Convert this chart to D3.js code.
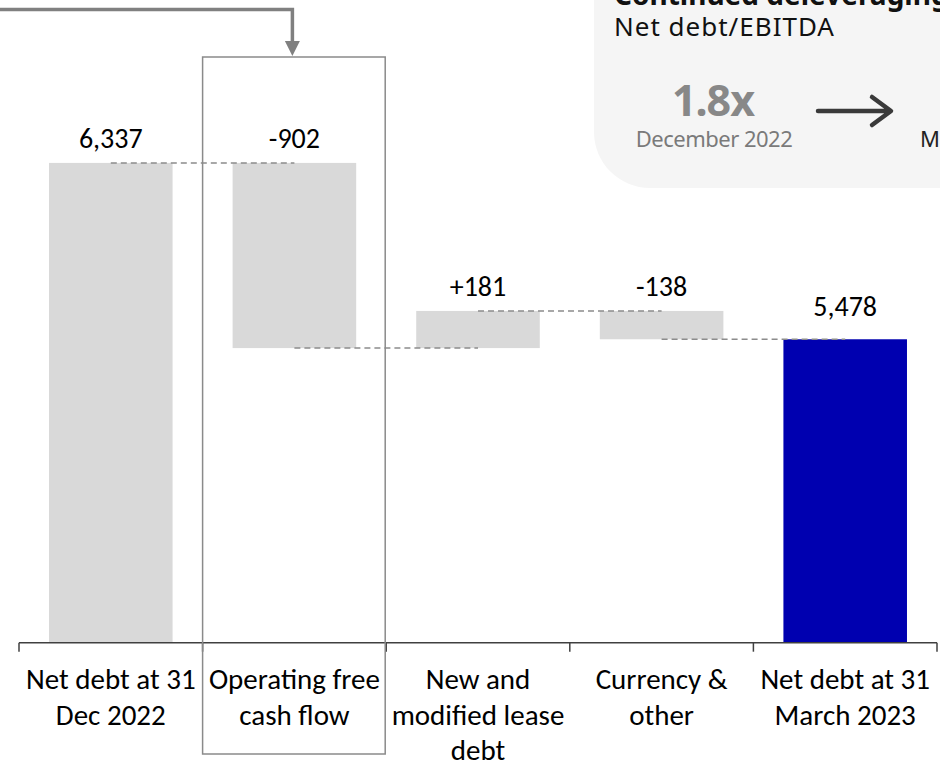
<!DOCTYPE html>
<html>
<head>
<meta charset="utf-8">
<script src="https://cdn.jsdelivr.net/npm/d3@7"></script>
<style>
  body { margin: 0; background: #fff; }
  .cat, .val { font-family: Carlito, Calibri, "Liberation Sans Narrow", sans-serif; fill: #000; }
  .panel text { font-family: "Noto Sans", sans-serif; }
</style>
</head>
<body>
<div id="chart"></div>
<script>
var svgW = 940;
var svgH = 766;

// waterfall steps, net debt in EUR m
var categories = ["Net debt at 31 Dec 2022", "Operating free cash flow", "New and modified lease debt", "Currency & other", "Net debt at 31 March 2023"];
var catLines = [["Net debt at 31", "Dec 2022"], ["Operating free", "cash flow"], ["New and", "modified lease", "debt"], ["Currency &", "other"], ["Net debt at 31", "March 2023"]];
var values = [6337, -902, 181, -138, 5478];
var kinds = ["total", "delta", "delta", "delta", "total"];
var valueLabels = ["6,337", "-902", "+181", "-138", "5,478"];
var colors = ["#d9d9d9", "#d9d9d9", "#d9d9d9", "#d9d9d9", "#0000b0"];

var axisY = 642.7;

var svg = d3.select("#chart")
    .append("svg")
    .attr("width", svgW)
    .attr("height", svgH);

// build start/end of each bar
var steps = [];
var running = 0;
for (var i = 0; i < values.length; i++) {
    var s, e;
    if (kinds[i] === "total") {
        s = 4000;
        e = values[i];
        running = values[i];
    } else {
        s = running;
        e = running + values[i];
        running = e;
    }
    steps.push({ cat: categories[i], lines: catLines[i], lo: Math.min(s, e), hi: Math.max(s, e), end: running, label: valueLabels[i], color: colors[i] });
}

var xScale = d3.scaleBand()
    .domain(categories)
    .range([19, 937])
    .paddingInner(0.327)
    .paddingOuter(0.1635);

var yScale = d3.scaleLinear()
    .domain([4000, 7000])
    .range([axisY, axisY - 3000 * 0.2053]);

var step = xScale.step();
var bw = xScale.bandwidth();
var cx = d => xScale(d) + bw / 2;

// side panel, top right
var panel = svg.append("g").attr("class", "panel");
panel.append("rect")
    .attr("x", 594).attr("y", -80)
    .attr("width", 420).attr("height", 268)
    .attr("rx", 56)
    .attr("fill", "#f5f5f5");
panel.append("text")
    .attr("x", 614).attr("y", 5)
    .attr("font-size", 28).attr("font-weight", 700)
    .attr("fill", "#111")
    .text("Continued deleveraging");
panel.append("text")
    .attr("x", 614).attr("y", 36)
    .attr("font-size", 26).attr("letter-spacing", 1)
    .attr("fill", "#111")
    .text("Net debt/EBITDA");
panel.append("text")
    .attr("x", 713).attr("y", 116)
    .attr("text-anchor", "middle")
    .attr("font-size", 43).attr("font-weight", 700).attr("letter-spacing", -1)
    .attr("fill", "#888")
    .text("1.8x");
panel.append("text")
    .attr("x", 714).attr("y", 147)
    .attr("text-anchor", "middle")
    .attr("font-size", 22).attr("letter-spacing", -0.5)
    .attr("fill", "#7a7a7a")
    .text("December 2022");
panel.append("path")
    .attr("d", "M818,111H890M872,97L891,111L872,125")
    .attr("fill", "none")
    .attr("stroke", "#3a3a3a")
    .attr("stroke-width", 4.5)
    .attr("stroke-linecap", "round")
    .attr("stroke-linejoin", "round");
panel.append("text")
    .attr("x", 920).attr("y", 147)
    .attr("font-size", 22).attr("letter-spacing", -0.5)
    .attr("fill", "#222")
    .text("March 2023");

// bars
svg.selectAll("rect.bar")
    .data(steps)
    .enter()
    .append("rect")
    .attr("class", "bar")
    .attr("x", d => xScale(d.cat))
    .attr("y", d => yScale(d.hi))
    .attr("width", bw)
    .attr("height", d => yScale(d.lo) - yScale(d.hi))
    .attr("fill", d => d.color);

// dashed connectors between bars
for (var j = 0; j < steps.length - 1; j++) {
    svg.append("line")
        .attr("x1", cx(steps[j].cat))
        .attr("x2", cx(steps[j + 1].cat))
        .attr("y1", yScale(steps[j].end))
        .attr("y2", yScale(steps[j].end))
        .attr("stroke", "#8c8c8c")
        .attr("stroke-width", 1.5)
        .attr("stroke-dasharray", "6,4");
}

// value labels
svg.selectAll("text.val")
    .data(steps)
    .enter()
    .append("text")
    .attr("class", "val")
    .attr("x", d => cx(d.cat))
    .attr("y", (d, k) => yScale(d.hi) - (k === steps.length - 1 ? 23 : 15))
    .attr("text-anchor", "middle")
    .attr("font-size", 28)
    .text(d => d.label);

// category axis
var axis = svg.append("g")
    .attr("transform", `translate(0, ${axisY})`);
axis.append("line")
    .attr("x1", 19).attr("x2", 937)
    .attr("stroke", "#404040").attr("stroke-width", 1.5);
var tickXs = d3.range(categories.length + 1).map(k => 19 + k * step);
axis.selectAll("line.tick")
    .data(tickXs)
    .enter()
    .append("line")
    .attr("class", "tick")
    .attr("x1", d => d).attr("x2", d => d)
    .attr("y1", 0).attr("y2", 9)
    .attr("stroke", "#404040").attr("stroke-width", 1.5);

steps.forEach(function (d) {
    var t = axis.append("text")
        .attr("class", "cat")
        .attr("text-anchor", "middle")
        .attr("font-size", 29);
    d.lines.forEach(function (ln, k) {
        t.append("tspan")
            .attr("x", cx(d.cat))
            .attr("y", 46.5 + k * 35.5)
            .text(ln);
    });
});

// highlight frame around operating free cash flow + callout arrow
var ofcf = categories[1];
var boxX = xScale(ofcf) - xScale.paddingOuter() * step;
svg.append("rect")
    .attr("x", boxX).attr("y", 57)
    .attr("width", step - 1).attr("height", 697)
    .attr("fill", "none")
    .attr("stroke", "#8a8a8a")
    .attr("stroke-width", 1.5);
svg.append("path")
    .attr("d", `M0,9.5H${cx(ofcf) - 2}V42`)
    .attr("fill", "none")
    .attr("stroke", "#808080")
    .attr("stroke-width", 3.5);
svg.append("path")
    .attr("d", `M${cx(ofcf) - 9.5},41L${cx(ofcf) + 5.5},41L${cx(ofcf) - 2},56Z`)
    .attr("fill", "#808080");
</script>
</body>
</html>
